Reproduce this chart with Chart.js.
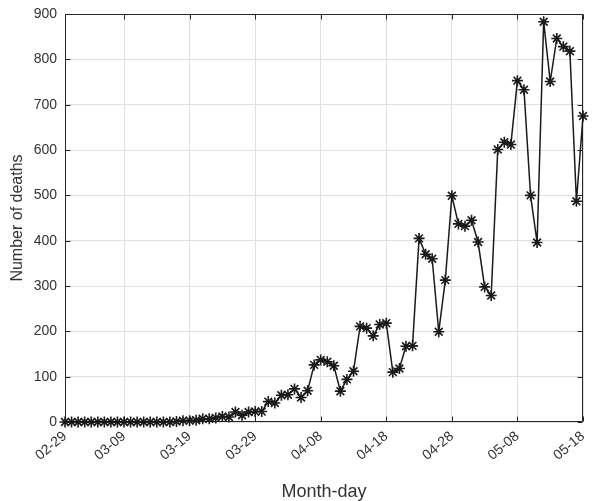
<!DOCTYPE html>
<html>
<head>
<meta charset="utf-8">
<script src="https://cdn.jsdelivr.net/npm/chart.js@4/dist/chart.umd.min.js"></script>
<style>
  html, body { margin: 0; padding: 0; background: #ffffff; }
  #wrap { width: 597px; height: 501px; }
</style>
</head>
<body>
<div id="wrap"><canvas id="c" width="597" height="501"></canvas></div>
<script>
const categories = [
  "02-29",
  "03-01","03-02","03-03","03-04","03-05","03-06","03-07","03-08","03-09","03-10",
  "03-11","03-12","03-13","03-14","03-15","03-16","03-17","03-18","03-19","03-20",
  "03-21","03-22","03-23","03-24","03-25","03-26","03-27","03-28","03-29","03-30","03-31",
  "04-01","04-02","04-03","04-04","04-05","04-06","04-07","04-08","04-09","04-10",
  "04-11","04-12","04-13","04-14","04-15","04-16","04-17","04-18","04-19","04-20",
  "04-21","04-22","04-23","04-24","04-25","04-26","04-27","04-28","04-29","04-30",
  "05-01","05-02","05-03","05-04","05-05","05-06","05-07","05-08","05-09","05-10",
  "05-11","05-12","05-13","05-14","05-15","05-16","05-17","05-18"
];

const deaths = [
  0,
  0,0,0,0,0,0,0,0,0,0,
  0,0,0,0,0,0,1,3,3,4,
  7,7,9,12,11,22,15,22,23,23,45,
  42,59,60,73,54,69,126,137,133,124,
  68,94,112,211,207,190,215,218,110,118,
  167,168,405,370,360,199,313,499,437,432,
  445,397,298,279,601,617,612,753,733,500,
  396,883,751,846,828,818,487,675
];

const tickLabels = ["02-29","03-09","03-19","03-29","04-08","04-18","04-28","05-08","05-18"];
const yTicks = [0,100,200,300,400,500,600,700,800,900];

const axisColor = '#262626';
const textColor = '#333333';
const gridColor = '#dfdfdf';
const fontFamily = '"Liberation Sans", Arial, Helvetica, sans-serif';

const boxPlugin = {
  id: 'matlabBox',
  beforeDatasetsDraw(chart) {
    const { ctx, chartArea: a, scales } = chart;
    const L = Math.round(a.left) + 0.5, R = Math.round(a.right) - 0.5;
    const T = Math.round(a.top) + 0.5, B = Math.round(a.bottom) - 0.5;
    ctx.save();
    ctx.strokeStyle = axisColor;
    ctx.lineWidth = 1;
    ctx.beginPath();
    ctx.rect(L, T, R - L, B - T);
    ctx.stroke();
    const tl = 5;
    ctx.beginPath();
    scales.x.ticks.forEach(t => {
      const x = Math.round(scales.x.getPixelForValue(t.value)) + 0.5;
      ctx.moveTo(x, B); ctx.lineTo(x, B - tl);
      ctx.moveTo(x, T); ctx.lineTo(x, T + tl);
    });
    scales.y.ticks.forEach(t => {
      const y = Math.round(scales.y.getPixelForValue(t.value)) + 0.5;
      ctx.moveTo(L, y); ctx.lineTo(L + tl, y);
      ctx.moveTo(R, y); ctx.lineTo(R - tl, y);
    });
    ctx.stroke();
    ctx.restore();
  }
};

new Chart(document.getElementById('c'), {
  type: 'line',
  data: {
    labels: categories,
    datasets: [{
      data: deaths,
      borderColor: '#1a1a1a',
      borderWidth: 1.5,
      tension: 0,
      pointStyle: 'star',
      pointRadius: 5.5,
      pointBorderWidth: 1.6,
      pointBorderColor: '#1a1a1a',
      pointBackgroundColor: '#1a1a1a',
      clip: false
    }]
  },
  options: {
    responsive: false,
    devicePixelRatio: 1,
    animation: false,
    layout: { padding: { top: 14, right: 14, left: 0, bottom: 0 } },
    plugins: {
      legend: { display: false },
      tooltip: { enabled: false }
    },
    scales: {
      x: {
        type: 'category',
        offset: false,
        afterBuildTicks(scale) {
          scale.ticks = scale.ticks.filter(t => tickLabels.includes(categories[t.value]));
        },
        afterFit(scale) { scale.height = 79; scale.paddingLeft = 0; scale.paddingRight = 0; },
        border: { display: false },
        grid: { color: gridColor, drawTicks: false, lineWidth: 1 },
        ticks: {
          autoSkip: false,
          minRotation: 40,
          maxRotation: 40,
          padding: 6,
          color: textColor,
          font: { family: fontFamily, size: 14 },
          callback(value) { return categories[value]; }
        },
        title: {
          display: true,
          text: 'Month-day',
          color: textColor,
          font: { family: fontFamily, size: 18, lineHeight: 1 },
          padding: { top: 0, bottom: 0 }
        }
      },
      y: {
        min: 0,
        max: 900,
        afterBuildTicks(scale) {
          scale.ticks = yTicks.map(v => ({ value: v }));
        },
        afterFit(scale) { scale.width = 65; scale.paddingTop = 0; scale.paddingBottom = 0; },
        border: { display: false },
        grid: { color: gridColor, drawTicks: false, lineWidth: 1 },
        ticks: {
          padding: 8,
          color: textColor,
          font: { family: fontFamily, size: 14 }
        },
        title: {
          display: true,
          text: 'Number of deaths',
          color: textColor,
          font: { family: fontFamily, size: 16, lineHeight: 1 },
          padding: { top: 10, bottom: 0 }
        }
      }
    }
  },
  plugins: [boxPlugin]
});
</script>
</body>
</html>
